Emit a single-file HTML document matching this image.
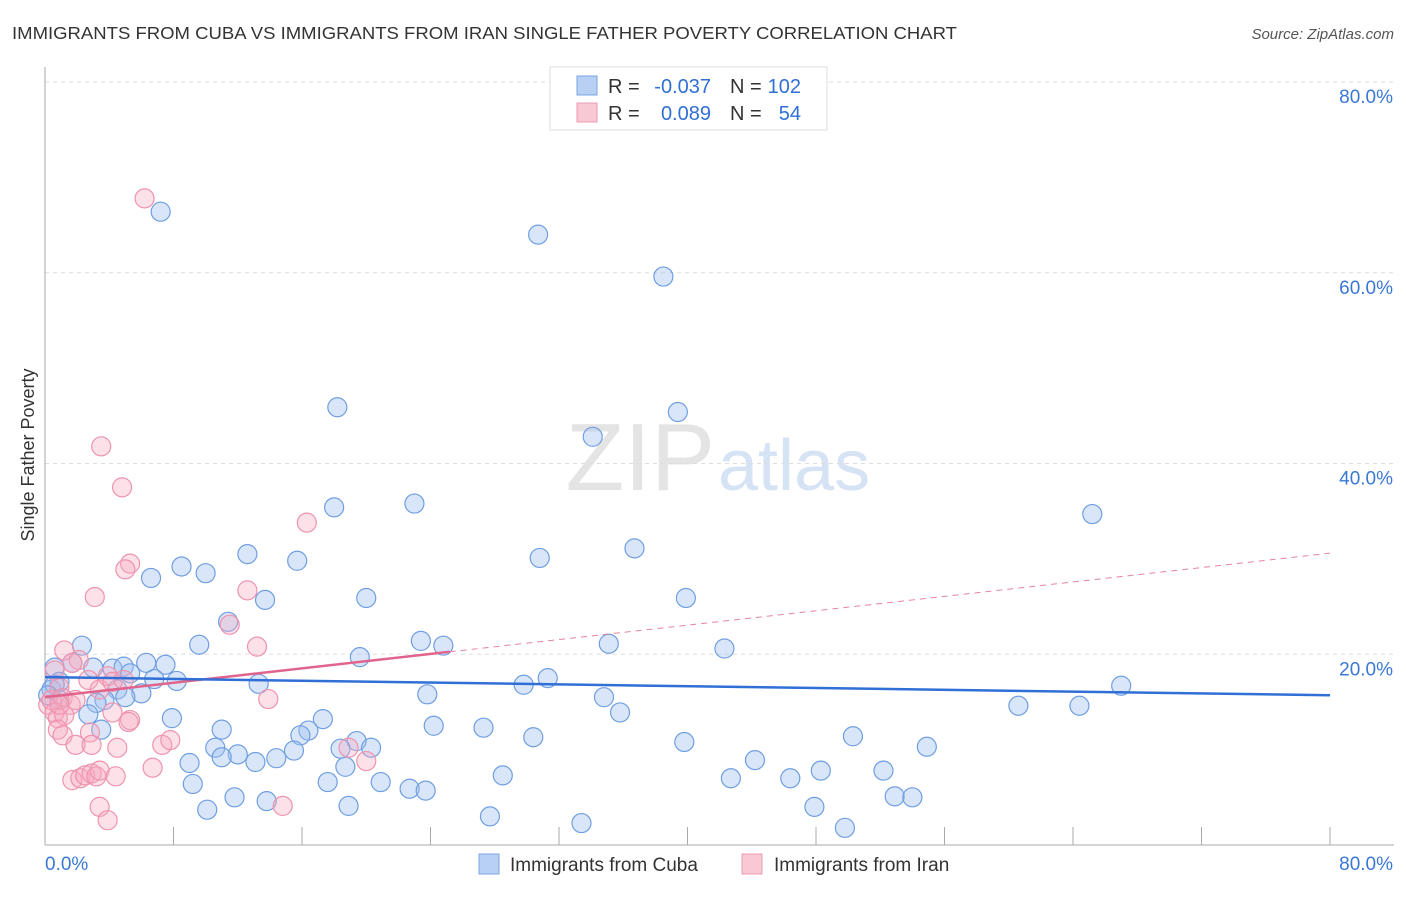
<!DOCTYPE html>
<html><head><meta charset="utf-8"><style>
body{margin:0;background:#fff;font-family:"Liberation Sans",sans-serif;}
svg text{font-family:"Liberation Sans",sans-serif;}
</style></head><body>
<svg id="c" width="1406" height="892">
<text x="12" y="39" font-size="17.5" fill="#333" textLength="945" lengthAdjust="spacingAndGlyphs">IMMIGRANTS FROM CUBA VS IMMIGRANTS FROM IRAN SINGLE FATHER POVERTY CORRELATION CHART</text>
<text x="1394" y="39" font-size="15" fill="#555" text-anchor="end" font-style="italic">Source: ZipAtlas.com</text>
<text x="715" y="490" font-size="96" fill="#e4e4e4" text-anchor="end" font-family="Liberation Serif">ZIP</text>
<text x="718" y="490" font-size="72" fill="#d6e3f5">atlas</text>
<text transform="translate(34,455) rotate(-90)" font-size="18" fill="#333" text-anchor="middle">Single Father Poverty</text>
<g id="grid"></g><g id="marks"></g><g id="trend"></g>
<g>
<rect x="550" y="67" width="277" height="63" fill="#fff" stroke="#ddd"/>
<rect x="577" y="76" width="20" height="19" fill="#b8d0f3" stroke="#7aa5e3"/>
<rect x="577" y="103" width="20" height="19" fill="#f8c8d5" stroke="#ee9ab2"/>
<text x="608" y="93" font-size="20" fill="#333">R =</text>
<text x="711" y="93" font-size="20" fill="#2f6fd6" text-anchor="end">-0.037</text>
<text x="730" y="93" font-size="20" fill="#333">N =</text>
<text x="801" y="93" font-size="20" fill="#2f6fd6" text-anchor="end">102</text>
<text x="608" y="120" font-size="20" fill="#333">R =</text>
<text x="711" y="120" font-size="20" fill="#2f6fd6" text-anchor="end">0.089</text>
<text x="730" y="120" font-size="20" fill="#333">N =</text>
<text x="801" y="120" font-size="20" fill="#2f6fd6" text-anchor="end">54</text>
</g>
<g>
<rect x="479" y="854" width="20" height="20" fill="#b8d0f3" stroke="#7aa5e3"/>
<text x="510" y="871" font-size="19" fill="#333">Immigrants from Cuba</text>
<rect x="742" y="854" width="20" height="20" fill="#f8c8d5" stroke="#ee9ab2"/>
<text x="774" y="871" font-size="19" fill="#333">Immigrants from Iran</text>
</g>
</svg>
<script>
const yTicks=[20,40,60,80];
const xTickVals=[0,8,16,24,32,40,48,56,64,72,80];
const xLabels=["0.0%","80.0%"];
const cubaX=[7.2,30.7,38.5,18.2,39.4,34.1,18.0,23.0,65.2,12.6,30.8,36.7,15.7,8.5,6.6,10.0,13.7,20.0,39.9,11.4,9.6,2.3,23.4,24.8,35.1,42.3,19.6,1.7,3.0,4.2,4.9,6.3,7.5,8.2,0.6,0.4,0.9,5.3,6.8,13.3,29.8,31.3,67.0,23.8,34.8,4.5,6.0,5.0,3.7,3.2,2.7,35.8,60.6,64.4,7.9,17.3,24.2,27.3,3.5,11.0,16.4,15.9,30.4,39.8,50.3,10.6,19.4,18.4,20.3,15.5,12.0,11.0,54.9,13.1,14.4,44.2,9.0,18.7,28.5,48.3,52.2,42.7,46.4,17.6,20.9,9.2,22.7,23.7,52.9,54.0,11.8,13.8,18.9,10.1,47.9,27.7,33.4,49.8,0.6,0.9,0.2];
const cubaY=[66.4,64.0,59.6,45.9,45.4,42.8,35.4,35.8,34.7,30.5,30.1,31.1,29.8,29.2,28.0,28.5,25.7,25.9,25.9,23.4,21.0,20.9,21.4,20.9,21.1,20.6,19.7,19.1,18.6,18.5,18.7,19.1,18.9,17.2,18.6,16.3,17.1,18.0,17.4,16.9,16.8,17.5,16.7,15.8,15.5,16.3,15.9,15.5,15.2,14.9,13.7,13.9,14.6,14.6,13.3,13.2,12.5,12.3,12.1,12.1,12.0,11.5,11.3,10.8,11.4,10.2,10.9,10.1,10.2,9.9,9.5,9.2,10.3,8.7,9.1,8.9,8.6,8.2,7.3,7.8,7.8,7.0,7.0,6.6,6.6,6.4,5.9,5.7,5.1,5.0,5.0,4.6,4.1,3.7,4.0,3.0,2.3,1.8,16.8,15.2,15.7];
const iranX=[6.2,3.5,4.8,16.3,5.3,5.0,12.6,3.1,11.5,13.2,1.2,2.1,1.7,0.6,0.9,2.7,3.4,3.9,4.2,4.9,0.2,0.4,1.1,0.6,0.8,1.6,1.9,1.2,4.2,5.3,0.8,1.1,2.8,1.9,2.9,4.5,7.3,7.8,5.2,6.7,18.9,20.0,1.7,2.2,2.5,2.9,3.2,3.4,4.4,3.4,3.9,13.9,14.8,0.9];
const iranY=[67.8,41.8,37.5,33.8,29.5,28.9,26.7,26.0,23.1,20.8,20.4,19.4,19.1,18.3,16.5,17.3,16.3,17.7,17.1,17.3,14.7,15.2,15.4,13.9,13.3,14.7,15.2,13.6,13.9,13.1,12.1,11.5,11.8,10.5,10.5,10.2,10.5,11.0,12.9,8.1,10.2,8.8,6.8,7.0,7.3,7.5,7.2,7.8,7.2,4.0,2.6,15.3,4.1,14.7];
const cubaTrend=[17.6,15.7];
const iranTrend=[15.5,30.6];
const iranSolidEnd=25.2;
const X0=45,X1=1330,Y0=845,Y1=82;
const sx=v=>X0+(v/80)*(X1-X0), sy=v=>Y0-(v/80)*(Y0-Y1);
const NS="http://www.w3.org/2000/svg";
function mk(t,a,p){const e=document.createElementNS(NS,t);for(const k in a)e.setAttribute(k,a[k]);p.appendChild(e);return e;}
const grid=document.getElementById('grid');
yTicks.forEach(v=>{
 const l=mk('line',{x1:X0,x2:1394,y1:sy(v),y2:sy(v),stroke:'#ddd','stroke-dasharray':'4,4'},grid);
 
 
 const t=mk('text',{x:1393,y:sy(v)+21,'font-size':19,fill:'#3a78d6','text-anchor':'end'},grid);
 t.textContent=v.toFixed(1)+'%';
 
 
});
const ax=mk('line',{x1:X0,x2:X0,y1:67,y2:Y0,stroke:'#aaa'},grid);


const bx=mk('line',{x1:X0,x2:1394,y1:Y0,y2:Y0,stroke:'#aaa'},grid);


xTickVals.forEach(v=>{
 const l=mk('line',{x1:sx(v),x2:sx(v),y1:827,y2:Y0,stroke:'#aaa'},grid);
 
 
});
[[0,'start',45],[80,'end',1393]].forEach((d,i)=>{
 const t=mk('text',{x:d[2],y:870,'font-size':19,fill:'#3a78d6','text-anchor':d[1]},grid);
 t.textContent=xLabels[i];
 
 
});
const marks=document.getElementById('marks');
cubaX.forEach((x,i)=>{
 const c=mk('circle',{cx:sx(x),cy:sy(cubaY[i]),r:9.5,fill:'rgba(160,192,240,0.4)',stroke:'#6f9fe2','stroke-width':1.2},marks);
 
 
});
iranX.forEach((x,i)=>{
 const c=mk('circle',{cx:sx(x),cy:sy(iranY[i]),r:9.5,fill:'rgba(245,170,192,0.35)',stroke:'#ef93ae','stroke-width':1.2},marks);
 
 
});
const tr=document.getElementById('trend');
const iy=x=>iranTrend[0]+(iranTrend[1]-iranTrend[0])*x/80;
const pd=mk('line',{x1:sx(iranSolidEnd),y1:sy(iy(iranSolidEnd)),x2:sx(80),y2:sy(iranTrend[1]),stroke:'#e7839f','stroke-width':1,'stroke-dasharray':'6,5'},tr);


const ps=mk('line',{x1:sx(0),y1:sy(iranTrend[0]),x2:sx(iranSolidEnd),y2:sy(iy(iranSolidEnd)),stroke:'#e0648c','stroke-width':2.5},tr);


const bl=mk('line',{x1:sx(0),y1:sy(cubaTrend[0]),x2:sx(80),y2:sy(cubaTrend[1]),stroke:'#2f6fd6','stroke-width':2.5},tr);


</script>
</body></html>
